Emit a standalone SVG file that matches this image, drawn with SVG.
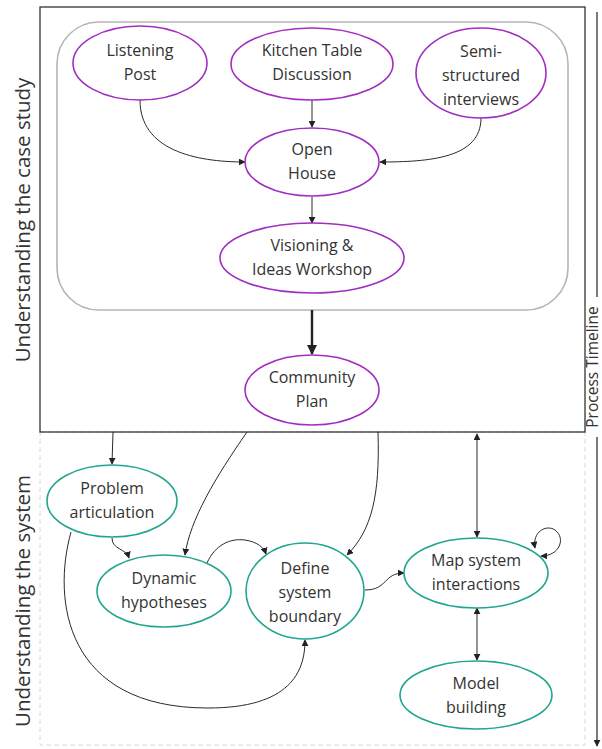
<svg xmlns="http://www.w3.org/2000/svg" width="602" height="749" viewBox="0 0 602 749">
  <style>
    .lbl { font-family: "Open Sans", "Noto Sans", "Liberation Sans", sans-serif; font-size: 16px; fill: #333; text-anchor: middle; }
    .side { font-family: "Open Sans", "Noto Sans", "Liberation Sans", sans-serif; font-size: 20.5px; fill: #333; text-anchor: middle; dominant-baseline: central; }
    .tl { font-family: "Open Sans", "Noto Sans", "Liberation Sans", sans-serif; font-size: 15.5px; fill: #333; text-anchor: middle; dominant-baseline: central; }
    .pur { fill: #fff; stroke: #a02ec0; stroke-width: 1.6; }
    .grn { fill: #fff; stroke: #1fa68d; stroke-width: 1.6; }
    .edge { fill: none; stroke: #2a2a2a; stroke-width: 1; }
  </style>
  <defs>
    <marker id="ah" viewBox="0 0 10 10" refX="9" refY="5" markerWidth="7" markerHeight="7" markerUnits="userSpaceOnUse" orient="auto-start-reverse">
      <path d="M0,0 L10,5 L0,10 z" fill="#222"/>
    </marker>
    <marker id="ahBig" viewBox="0 0 10 10" refX="9" refY="5" markerWidth="12" markerHeight="10" markerUnits="userSpaceOnUse" orient="auto">
      <path d="M0,0 L10,5 L0,10 z" fill="#222"/>
    </marker>
  </defs>

  <rect width="602" height="749" fill="#fff"/>

  <!-- phase frames -->
  <rect id="system-frame" x="40" y="432" width="545" height="313" fill="none" stroke="#d8d8d8" stroke-width="1" stroke-dasharray="5 3"/>
  <rect id="case-frame" x="40" y="7" width="545" height="425" fill="none" stroke="#333" stroke-width="1.3"/>
  <rect id="engagement-group" x="57" y="22" width="511" height="288" rx="42" fill="none" stroke="#b5b5b5" stroke-width="1.6"/>

  <!-- phase labels -->
  <text class="side" transform="translate(22,220) rotate(-90)">Understanding the case study</text>
  <text class="side" transform="translate(22,601) rotate(-90)">Understanding the system</text>

  <!-- timeline -->
  <g id="timeline">
    <line x1="597" y1="12" x2="597" y2="297" stroke="#333" stroke-width="1.3"/>
    <line x1="597" y1="437" x2="597" y2="746" stroke="#333" stroke-width="1.3" marker-end="url(#ah)"/>
    <text class="tl" transform="translate(592,367) rotate(-90)">Process Timeline</text>
  </g>

  <g id="connectors">
    <path class="edge" d="M140,100 C140,150 195,162 245,162" marker-end="url(#ah)"/>
    <path class="edge" d="M312,100 L312,127" marker-end="url(#ah)"/>
    <path class="edge" d="M481,118 C481,158 430,162 380,162" marker-end="url(#ah)"/>
    <path class="edge" d="M312,197 L312,223" marker-end="url(#ah)"/>
    <path d="M312,310 L312,354" fill="none" stroke="#222" stroke-width="2.4" marker-end="url(#ahBig)"/>
    <path class="edge" d="M113,432 L112,464" marker-end="url(#ah)"/>
    <path class="edge" d="M247,432 C215,478 190,520 185,555" marker-end="url(#ah)"/>
    <path class="edge" d="M378,432 C380,495 372,530 347,555" marker-end="url(#ah)"/>
    <path class="edge" d="M477,434 L477,537" marker-start="url(#ah)" marker-end="url(#ah)"/>
    <path class="edge" d="M112,538 C112,550 126,548 129,558" marker-end="url(#ah)"/>
    <path class="edge" d="M207,563 C215,545 230,538 245,540 C258,542 264,548 266,554" marker-end="url(#ah)"/>
    <path class="edge" d="M71,532 C52,600 65,708 208,708 C290,708 305,672 305,640" marker-end="url(#ah)"/>
    <path class="edge" d="M365,590 C388,590 383,573 404,573" marker-end="url(#ah)"/>
    <path class="edge" d="M535,548 C532,532 546,524 555,530 C566,538 560,556 541,556" marker-start="url(#ah)" marker-end="url(#ah)"/>
    <path class="edge" d="M477,608 L477,660" marker-start="url(#ah)" marker-end="url(#ah)"/>
  </g>

  <!-- case study nodes -->
  <g id="listening-post">
    <ellipse class="pur" cx="140" cy="63" rx="67" ry="37"/>
    <text class="lbl" x="140" y="56">Listening</text>
    <text class="lbl" x="140" y="80">Post</text>
  </g>
  <g id="kitchen-table">
    <ellipse class="pur" cx="312" cy="64" rx="81" ry="36"/>
    <text class="lbl" x="312" y="56">Kitchen Table</text>
    <text class="lbl" x="312" y="80">Discussion</text>
  </g>
  <g id="semi-structured">
    <ellipse class="pur" cx="481" cy="73" rx="65" ry="45"/>
    <text class="lbl" x="481" y="57">Semi-</text>
    <text class="lbl" x="481" y="81">structured</text>
    <text class="lbl" x="481" y="105">interviews</text>
  </g>
  <g id="open-house">
    <ellipse class="pur" cx="312" cy="162" rx="67" ry="34"/>
    <text class="lbl" x="312" y="155">Open</text>
    <text class="lbl" x="312" y="179">House</text>
  </g>
  <g id="visioning">
    <ellipse class="pur" cx="312" cy="258" rx="92" ry="35"/>
    <text class="lbl" x="312" y="251">Visioning &amp;</text>
    <text class="lbl" x="312" y="275">Ideas Workshop</text>
  </g>
  <g id="community-plan">
    <ellipse class="pur" cx="312" cy="390" rx="67" ry="35"/>
    <text class="lbl" x="312" y="383">Community</text>
    <text class="lbl" x="312" y="407">Plan</text>
  </g>

  <!-- system nodes -->
  <g id="problem-articulation">
    <ellipse class="grn" cx="112" cy="501" rx="65" ry="36"/>
    <text class="lbl" x="112" y="494">Problem</text>
    <text class="lbl" x="112" y="518">articulation</text>
  </g>
  <g id="dynamic-hypotheses">
    <ellipse class="grn" cx="164" cy="591" rx="67" ry="36"/>
    <text class="lbl" x="164" y="584">Dynamic</text>
    <text class="lbl" x="164" y="608">hypotheses</text>
  </g>
  <g id="system-boundary">
    <ellipse class="grn" cx="305" cy="591" rx="59" ry="48"/>
    <text class="lbl" x="305" y="574">Define</text>
    <text class="lbl" x="305" y="598">system</text>
    <text class="lbl" x="305" y="622">boundary</text>
  </g>
  <g id="map-interactions">
    <ellipse class="grn" cx="476" cy="573" rx="72" ry="35"/>
    <text class="lbl" x="476" y="566">Map system</text>
    <text class="lbl" x="476" y="590">interactions</text>
  </g>
  <g id="model-building">
    <ellipse class="grn" cx="476" cy="695" rx="76" ry="34"/>
    <text class="lbl" x="476" y="689">Model</text>
    <text class="lbl" x="476" y="713">building</text>
  </g>
</svg>
